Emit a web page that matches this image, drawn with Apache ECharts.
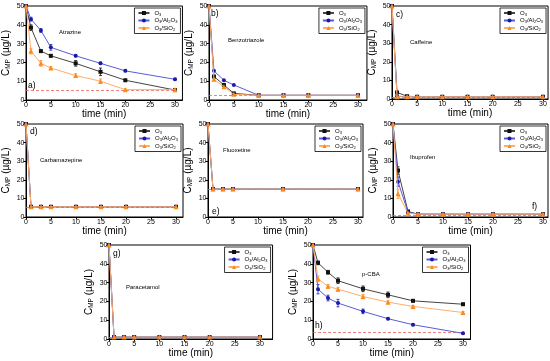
<!DOCTYPE html>
<html><head><meta charset="utf-8">
<script src="https://cdn.jsdelivr.net/npm/echarts@6/dist/echarts.min.js"></script>
<style>html,body{margin:0;padding:0;background:#fff}#c{width:550px;height:361px}</style>
</head><body><div id="c"></div>
<script>
// ---- data ----
const times = [0, 1, 3, 5, 10, 15, 20, 30];
const timesFluox = [0, 1, 3, 5, 15, 30];
const xTickLabels = [0, 5, 10, 15, 20, 25, 30];
const yTickLabels = [0, 10, 20, 30, 40, 50];
const seriesNames = ['O3', 'O3/Al2O3', 'O3/SiO2'];

const atrazineO3 = [50, 38.5, 26, 23.5, 19.5, 15, 10.5, 5.3];
const atrazineAl = [50, 43, 37, 28, 23.5, 19.5, 15.5, 11];
const atrazineSi = [50, 26, 19.5, 17, 13, 10, 5.5, 5.5];
const atrazineErrO3 = [0, 1.5, 0.5, 0.6, 1.5, 2, 0.5, 0.5];
const atrazineErrAl = [0, 1, 1, 1.5, 0.6, 0.6, 0.5, 0.5];
const atrazineErrSi = [0, 1.5, 1.5, 0.8, 1, 1.2, 0.5, 0.5];
const atrazineLimit = 5;

const benzoO3 = [50, 12.5, 8, 3.5, 2.5, 2.5, 2.5, 2.5];
const benzoAl = [50, 15.5, 10.5, 8, 2.5, 2.5, 2.5, 2.5];
const benzoSi = [50, 11, 7, 3, 2.5, 2.5, 2.5, 2.5];
const benzoLimit = 2.5;

const caffeineO3 = [50, 3.5, 1.5, 1.2, 1.2, 1.2, 1.2, 1.2];
const caffeineAl = [50, 1.5, 1.2, 1.2, 1.2, 1.2, 1.2, 1.2];
const caffeineSi = [50, 1.2, 1.2, 1.2, 1.2, 1.2, 1.2, 1.2];
const caffeineLimit = 1.2;

const carbaO3 = [50, 5.5, 5.5, 5.5, 5.5, 5.5, 5.5, 5.5];
const carbaAl = [50, 5.5, 5.5, 5.5, 5.5, 5.5, 5.5, 5.5];
const carbaSi = [50, 5.5, 5.5, 5.5, 5.5, 5.5, 5.5, 5.5];
const carbaLimit = 5.5;

const fluoxO3 = [50, 15, 15, 15, 15, 15];
const fluoxAl = [50, 15, 15, 15, 15, 15];
const fluoxSi = [50, 15, 15, 15, 15, 15];
const fluoxLimit = 15;

const ibuO3 = [50, 25, 3, 1.5, 1.5, 1.5, 1.5, 1.5];
const ibuAl = [50, 19, 2.5, 1.5, 1.5, 1.5, 1.5, 1.5];
const ibuSi = [50, 12.5, 2, 1.5, 1.5, 1.5, 1.5, 1.5];
const ibuErrO3 = [0, 2, 0.5, 0.3, 0.3, 0.3, 0.3, 0.3];
const ibuErrAl = [0, 2.5, 0.5, 0.3, 0.3, 0.3, 0.3, 0.3];
const ibuErrSi = [0, 2.5, 0.5, 0.3, 0.3, 0.3, 0.3, 0.3];
const ibuLimit = 1.2;

const paraO3 = [50, 1, 1, 1, 1, 1, 1, 1];
const paraAl = [50, 1, 1, 1, 1, 1, 1, 1];
const paraSi = [50, 1, 1, 1, 1, 1, 1, 1];
const paraLimit = 1;

const pcbaO3 = [50, 40.5, 35.5, 31, 26.7, 23.5, 20.3, 18.5];
const pcbaAl = [50, 26.5, 21.8, 19.1, 14.7, 10.8, 7.6, 3];
const pcbaSi = [50, 32, 28, 26.5, 22.6, 19.6, 17.3, 14.1];
const pcbaErrO3 = [0, 1, 1, 1.5, 1.5, 1.5, 0.5, 0.5];
const pcbaErrAl = [0, 2.5, 1.5, 2, 1.2, 0.5, 0.5, 0.5];
const pcbaErrSi = [0, 1.5, 1, 1, 1.2, 0.8, 0.5, 0.5];
const pcbaLimit = 3.7;

const compounds = ['Atrazine', 'Benzotriazole', 'Caffeine', 'Carbamazepine', 'Fluoxetine', 'Ibuprofen', 'Paracetamol', 'p-CBA'];
const tags = ['a)', 'b)', 'c)', 'd)', 'e)', 'f)', 'g)', 'h)'];

// ---- layout (positions/styles) ----
const gridBoxes = [
  [26, 6, 149, 94], [209, 6, 149, 94], [392, 6, 151, 93],
  [26, 124, 150, 93], [208, 124, 150, 93], [393, 124, 150, 93],
  [109, 245, 151, 94], [313, 245, 150, 94]
];
const xMaxes = [31.5, 31.8, 31, 31.4, 31, 31, 32.5, 31.5];
const compoundPos = [[59, 29], [228, 37], [410, 39], [40, 157], [223, 147], [410, 154], [126, 284], [362, 271]];
const tagPos = [[28, 81], [211, 9], [396, 10], [30, 127], [212, 207], [532, 202], [113, 249], [315, 321]];

const panels = [
  {x: times, v: [atrazineO3, atrazineAl, atrazineSi], err: [atrazineErrO3, atrazineErrAl, atrazineErrSi], limit: atrazineLimit},
  {x: times, v: [benzoO3, benzoAl, benzoSi], limit: benzoLimit},
  {x: times, v: [caffeineO3, caffeineAl, caffeineSi], limit: caffeineLimit},
  {x: times, v: [carbaO3, carbaAl, carbaSi], limit: carbaLimit},
  {x: timesFluox, v: [fluoxO3, fluoxAl, fluoxSi], limit: fluoxLimit},
  {x: times, v: [ibuO3, ibuAl, ibuSi], err: [ibuErrO3, ibuErrAl, ibuErrSi], limit: ibuLimit},
  {x: times, v: [paraO3, paraAl, paraSi], limit: paraLimit},
  {x: times, v: [pcbaO3, pcbaAl, pcbaSi], err: [pcbaErrO3, pcbaErrAl, pcbaErrSi], limit: pcbaLimit}
];

const FONT = '"Liberation Sans", Arial, sans-serif';
const markerColors = ['#111111', '#1a1aaa', '#ff8a1c'];
const lineColors = ['#444444', '#5a5ad8', '#ffad6b'];
const symbols = ['rect', 'circle', 'triangle'];
const symbolSizes = [4, 4, 5];
const legendRich = {
  n: {fontSize: 6, fontFamily: FONT, color: '#000'},
  s: {fontSize: 4, fontFamily: FONT, color: '#000', verticalAlign: 'bottom', padding: [3, 0, 0, 0]}
};
const legendLabels = {'O3': '{n|O}{s|3}', 'O3/Al2O3': '{n|O}{s|3}{n|/Al}{s|2}{n|O}{s|3}', 'O3/SiO2': '{n|O}{s|3}{n|/SiO}{s|2}'};

const grids = [], xAxes = [], yAxes = [], series = [], legends = [], titles = [];
gridBoxes.forEach((b, i) => {
  const xm = xMaxes[i];
  const w = b[2] * xm / 30;
  grids.push({left: b[0], top: b[1], width: w, height: b[3], show: true, borderColor: '#000', borderWidth: 1, backgroundColor: 'transparent'});
  xAxes.push({
    type: 'value', gridIndex: i, min: 0, max: xm,
    name: 'time (min)', nameLocation: 'middle', nameGap: 6,
    nameTextStyle: {fontSize: 10, fontFamily: FONT, color: '#000', verticalAlign: 'top'},
    axisLine: {show: true, onZero: false, lineStyle: {color: '#000', width: 1}},
    axisTick: {show: true, length: 2.5, customValues: xTickLabels, lineStyle: {color: '#000'}},
    axisLabel: {fontSize: 7, fontFamily: FONT, color: '#000', margin: 1.5, customValues: xTickLabels},
    splitLine: {show: false}
  });
  yAxes.push({
    type: 'value', gridIndex: i, min: 0, max: 50, interval: 10,
    name: 'C{sub|MP} (µg/L)', nameLocation: 'middle', nameGap: 14, nameRotate: 90,
    nameTextStyle: {fontSize: 10, fontFamily: FONT, color: '#000',
      rich: {sub: {fontSize: 6.5, fontFamily: FONT, color: '#000', verticalAlign: 'bottom', padding: [5, 0, 0, 0]}}},
    axisLine: {show: true, lineStyle: {color: '#000', width: 1}},
    axisTick: {show: true, length: 2.5, lineStyle: {color: '#000'}},
    axisLabel: {fontSize: 7, fontFamily: FONT, color: '#000', margin: 1.5},
    splitLine: {show: false}
  });
  const p = panels[i];
  p.v.forEach((vals, k) => {
    const s = {
      type: 'line', name: seriesNames[k], xAxisIndex: i, yAxisIndex: i,
      data: p.x.map((t, j) => [t, vals[j]]),
      symbol: symbols[k], symbolSize: symbolSizes[k],
      itemStyle: {color: markerColors[k]},
      lineStyle: {color: lineColors[k], width: 1},
      z: 3 + k, animation: false
    };
    if (k === 0) {
      s.markLine = {
        silent: true, symbol: 'none', label: {show: false},
        lineStyle: {color: '#f06060', type: [3, 2], width: 0.8},
        data: [[{coord: [0, p.limit]}, {coord: [30, p.limit]}]],
        z: 2
      };
    }
    series.push(s);
    if (p.err) {
      const col = markerColors[k];
      series.push({
        type: 'custom', name: 'err' + k, xAxisIndex: i, yAxisIndex: i,
        data: p.x.map((t, j) => [t, vals[j], p.err[k][j]]),
        encode: {x: 0, y: 1}, z: 3 + k, animation: false, silent: true,
        renderItem: function (params, api) {
          const x = api.value(0), y = api.value(1), e = api.value(2);
          if (!e) return null;
          const t = api.coord([x, y + e]), bt = api.coord([x, y - e]);
          const st = {stroke: col, lineWidth: 0.8};
          return {type: 'group', children: [
            {type: 'line', shape: {x1: t[0], y1: t[1], x2: bt[0], y2: bt[1]}, style: st},
            {type: 'line', shape: {x1: t[0] - 1.5, y1: t[1], x2: t[0] + 1.5, y2: t[1]}, style: st},
            {type: 'line', shape: {x1: bt[0] - 1.5, y1: bt[1], x2: bt[0] + 1.5, y2: bt[1]}, style: st}
          ]};
        }
      });
    }
  });
  legends.push({
    data: seriesNames, orient: 'vertical', selectedMode: false,
    right: 550 - (b[0] + w) + 2, top: b[1] + 2,
    borderColor: '#000', borderWidth: 0.8, padding: [2, 3, 2, 3],
    itemGap: 1, itemWidth: 11, itemHeight: 5,
    formatter: n => legendLabels[n],
    textStyle: {fontSize: 6, fontFamily: FONT, color: '#000', rich: legendRich},
    backgroundColor: '#fff'
  });
  titles.push({text: compounds[i], left: compoundPos[i][0], top: compoundPos[i][1], padding: 0,
    textStyle: {fontSize: 6, fontWeight: 'normal', fontFamily: FONT, color: '#000'}});
  titles.push({text: tags[i], left: tagPos[i][0], top: tagPos[i][1], padding: 0,
    textStyle: {fontSize: 8.5, fontWeight: 'normal', fontFamily: FONT, color: '#000'}});
});

const chart = echarts.init(document.getElementById('c'), null, {renderer: 'canvas'});
chart.setOption({
  animation: false, backgroundColor: '#fff',
  title: titles, grid: grids, xAxis: xAxes, yAxis: yAxes, legend: legends, series: series
});
</script></body></html>
